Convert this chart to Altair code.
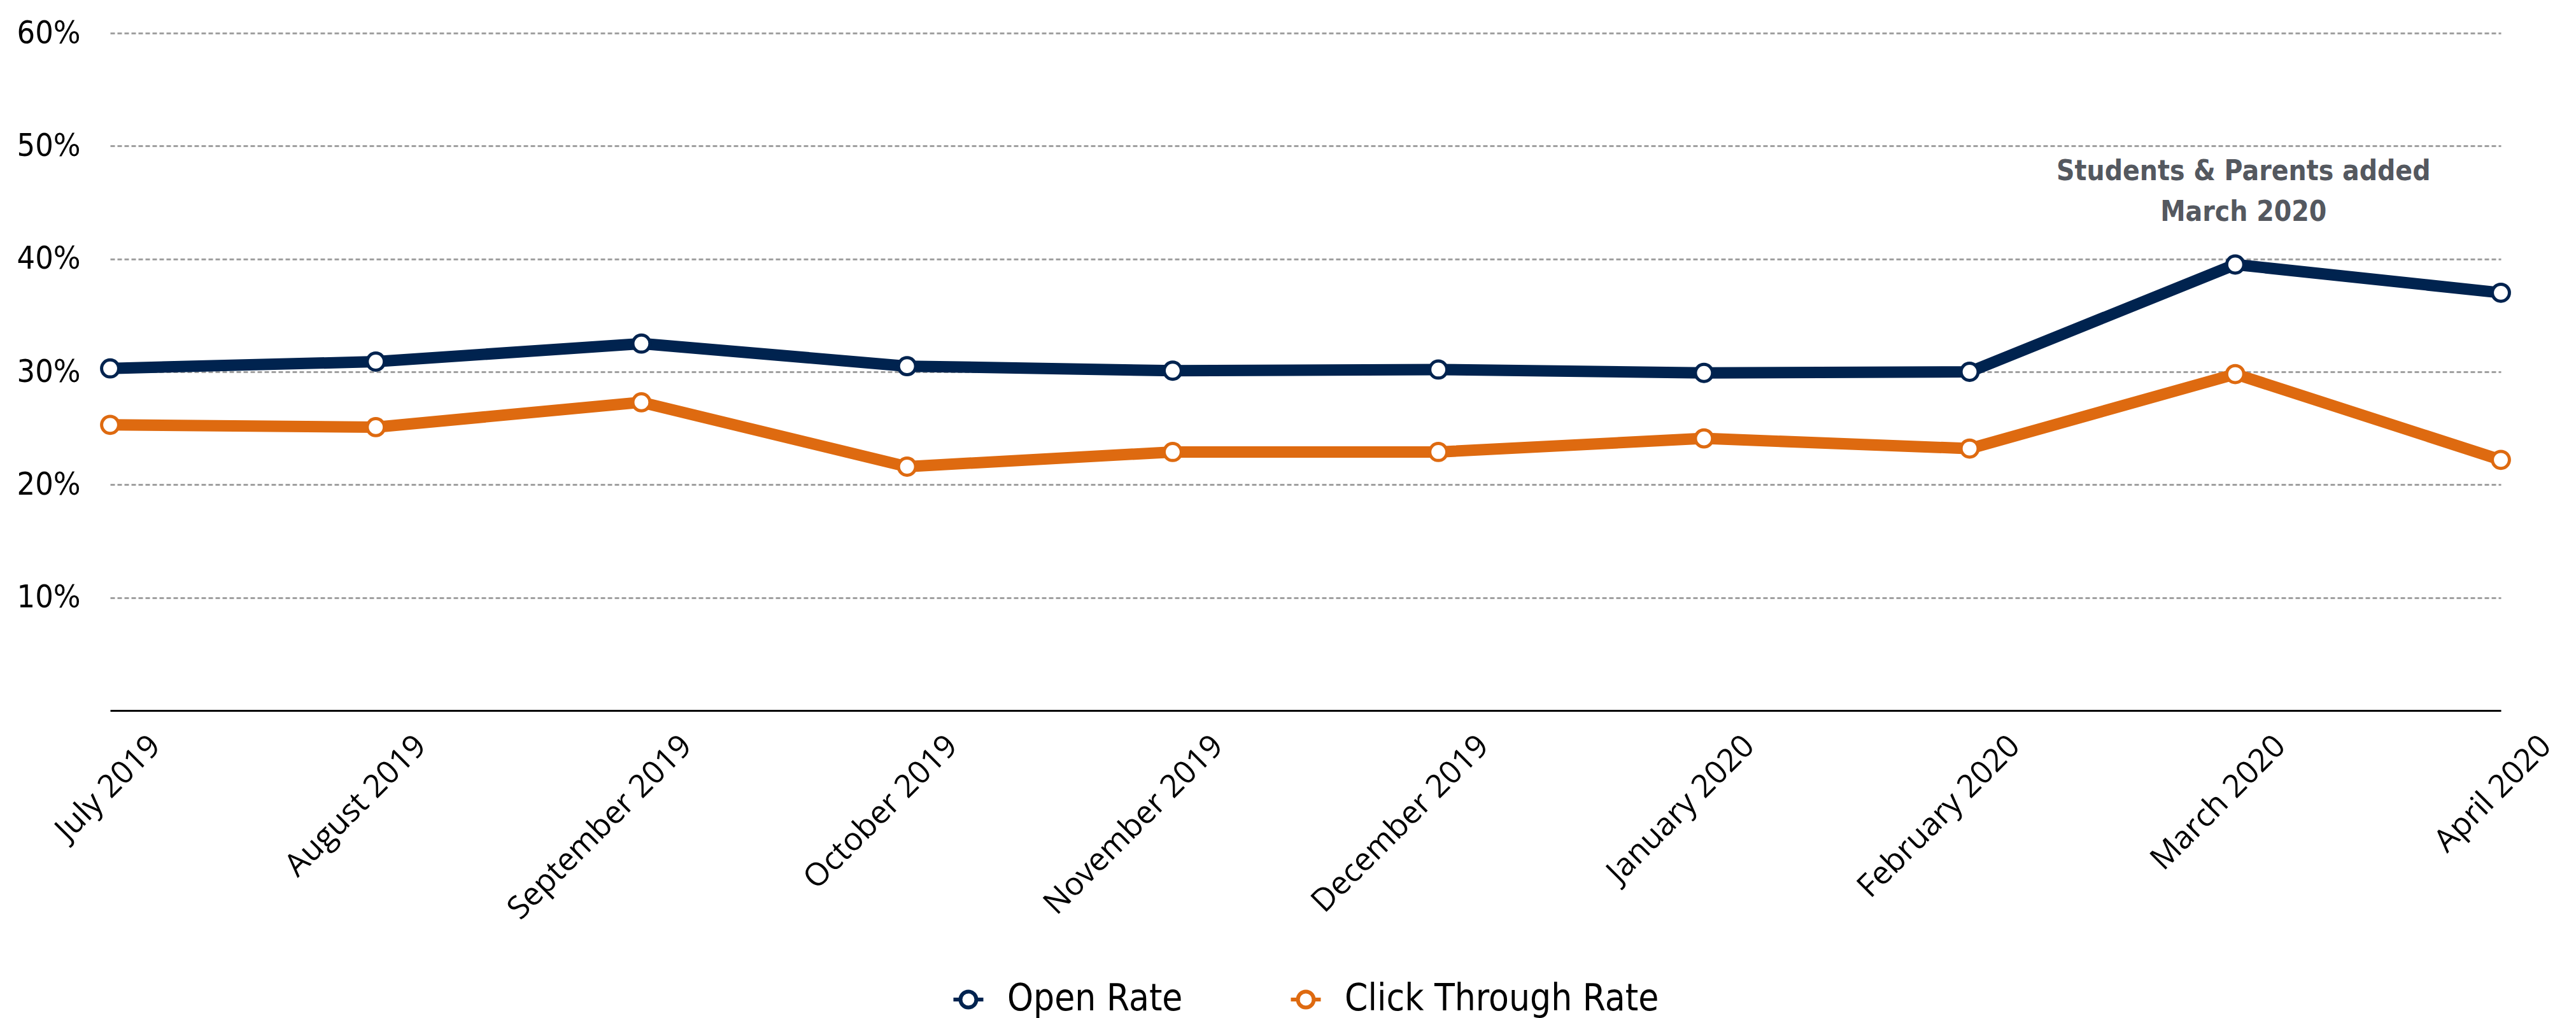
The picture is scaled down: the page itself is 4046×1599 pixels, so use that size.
import altair as alt
import pandas as pd

months = ["July 2019", "August 2019", "September 2019", "October 2019",
          "November 2019", "December 2019", "January 2020", "February 2020",
          "March 2020", "April 2020"]
open_rate = [30.3, 30.9, 32.5, 30.5, 30.1, 30.2, 29.9, 30.0, 39.5, 37.0]
click_rate = [25.3, 25.1, 27.3, 21.6, 22.9, 22.9, 24.1, 23.2, 29.8, 22.2]
series = ["Open Rate", "Click Through Rate"]
colors = ["#00234F", "#DE6A10"]
y_ticks = [10, 20, 30, 40, 50, 60]
annotation_lines = ["Students & Parents added", "March 2020"]

rows = []
for m, o, c in zip(months, open_rate, click_rate):
    rows.append({"month": m, "series": series[0], "value": o})
    rows.append({"month": m, "series": series[1], "value": c})
df = pd.DataFrame(rows)
ann_df = pd.DataFrame({"text": ["\n".join(annotation_lines)]})

NARROW = "Liberation Sans Narrow, Arial Narrow, DejaVu Sans Condensed, sans-serif"
legend_path = ("M -1 0 L -0.53 0 M 0.53 0 L 1 0 "
               "M 0.53 0 A 0.53 0.53 0 1 1 -0.53 0 A 0.53 0.53 0 1 1 0.53 0 Z")

x_enc = alt.X("month:N", sort=months,
              scale=alt.Scale(type="point", padding=0),
              axis=alt.Axis(title=None, labelAngle=-45, labelAlign="right",
                            labelBaseline="top", labelFont="Open Sans",
                            labelFontSize=50, labelColor="black",
                            labelOffset=53, labelPadding=30, labelLimit=0,
                            ticks=False, domainColor="black", domainWidth=3,
                            grid=False, labelOverlap=False))
y_enc = alt.Y("value:Q", scale=alt.Scale(domain=[0, 60], nice=False),
              axis=alt.Axis(values=y_ticks, labelExpr="datum.value + '%'",
                            title=None, domain=False, ticks=False, grid=True,
                            gridColor="#A0A0A0", gridDash=[7, 4], gridWidth=3,
                            labelFont=NARROW, labelFontSize=50,
                            labelColor="black", labelPadding=47))
legend = alt.Legend(title=None, orient="none", legendX=1319, legendY=1489,
                    direction="horizontal", symbolType=legend_path,
                    symbolSize=2209, symbolStrokeWidth=6,
                    symbolFillColor="white", symbolOpacity=1,
                    labelFont=NARROW, labelFontSize=58, labelColor="black",
                    labelOffset=32, labelLimit=0, columnPadding=157, padding=0)
color_enc = alt.Color("series:N", sort=series,
                      scale=alt.Scale(domain=series, range=colors),
                      legend=legend)

base = alt.Chart(df).encode(x=x_enc, y=y_enc, color=color_enc,
                            detail="series:N")
lines = base.mark_line(strokeWidth=18)
points = base.mark_point(shape="circle", filled=False, fill="white",
                         size=720, strokeWidth=5, opacity=1)

ann = alt.Chart(ann_df).mark_text(
    font=NARROW, fontWeight="bold", fontSize=44, color="#54585F",
    align="center", baseline="alphabetic", lineBreak="\n", lineHeight=64,
    dx=13
).encode(x=alt.datum("March 2020"), y=alt.datum(47.0), text="text:N")

chart = alt.layer(lines, points, ann).properties(
    width=3755, height=1064,
    autosize=alt.AutoSizeParams(type="none"),
    padding={"left": 165, "top": 44, "right": 110, "bottom": 500},
    background="white",
).configure_view(stroke=None)

chart.save("out.html", embed_options={"renderer": "svg", "actions": False})
